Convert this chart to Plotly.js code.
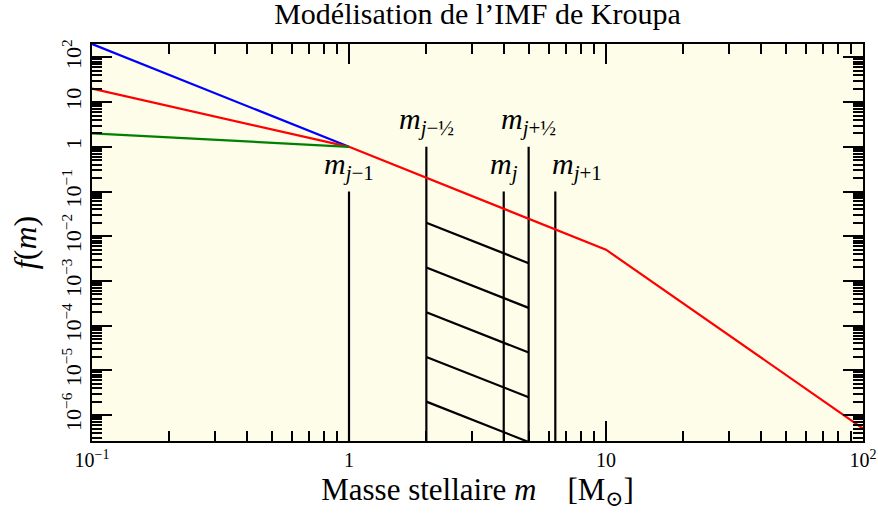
<!DOCTYPE html>
<html>
<head>
<meta charset="utf-8">
<script src="https://cdn.plot.ly/plotly-3.0.1.min.js"></script>
<style>html,body{margin:0;padding:0;background:#fff;}#chart{width:878px;height:517px;}#status{position:absolute;left:95px;top:240px;font:10px monospace;color:transparent;white-space:pre-wrap;background:transparent;z-index:10;width:760px;pointer-events:none}</style>
</head>
<body>
<div id="chart"></div>
<div id="status">start</div>
<script>
const errs = [];
window.onerror = function(m, s, l, c, e){ errs.push('onerror: ' + m + ' @' + l + ':' + c); };
// Low-mass segments (0.1 -> 1 Msun)
const massLow = [0.1, 1];
const blueF = [200, 1];
const redLowF = [20, 1];
const greenF = [2, 1];
// Kroupa red continuation above 1 Msun
const massHigh = [1, 10, 100];
const redHighF = [1, 5e-3, 5e-7];
// Bin boundaries and labels
const boundM = [1, 2, 4, 5, 6.35];
const boundTop = [0.1, 1, 0.1, 1, 0.1];
const boundBottom = [1e-7, 1e-7, 1e-7, 1e-7, 1e-7];
const boundLabels = ["<i>m</i><sub><i>j</i>−1</sub>", "<i>m</i><sub><i>j</i>−½</sub>", "<i>m</i><sub><i>j</i></sub>", "<i>m</i><sub><i>j</i>+½</sub>", "<i>m</i><sub><i>j</i>+1</sub>"];
// Hatching inside [m_{j-1/2}, m_{j+1/2}]
const hatchM = [2, 5];
const hatchStartF = [2e-2, 2e-3, 2e-4, 2e-5, 2e-6];
const hatchEndF = [2.5e-3, 2.5e-4, 2.5e-5, 2.5e-6, 2.5e-7];
// Tick labels
const xTickVals = [0.1, 1, 10, 100];
const xTickText = ["10<sup>−1</sup>", "1", "10", "10<sup>2</sup>"];
const yTickVals = [1e-6, 1e-5, 1e-4, 1e-3, 1e-2, 1e-1, 1, 10, 100];
const yTickText = ["10<sup>−6</sup>", "10<sup>−5</sup>", "10<sup>−4</sup>", "10<sup>−3</sup>", "10<sup>−2</sup>", "10<sup>−1</sup>", "1", "10", "10<sup>2</sup>"];

const X_RANGE = [-1, 2];
const Y_RANGE = [-6.58, 2.3];
const FONT = "Liberation Serif, DejaVu Serif, serif";
const LW = 2.2;
const traces = [];
traces.push({x: massLow, y: blueF, mode: 'lines', line: {color: '#0000ff', width: LW}});
traces.push({x: massLow, y: redLowF, mode: 'lines', line: {color: '#ff0000', width: LW}});
traces.push({x: massLow, y: greenF, mode: 'lines', line: {color: '#008000', width: LW}});
for (let i = 0; i < boundM.length; i++) traces.push({x: [boundM[i], boundM[i]], y: [boundTop[i], boundBottom[i]], mode: 'lines', line: {color: '#000', width: LW}});
for (let k = 0; k < hatchStartF.length; k++) traces.push({x: hatchM, y: [hatchStartF[k], hatchEndF[k]], mode: 'lines', line: {color: '#000', width: LW}});
traces.push({x: massHigh, y: redHighF, mode: 'lines', line: {color: '#ff0000', width: LW}});

const annotations = boundM.map((m, i) => ({x: Math.log10(m), y: Math.log10(boundTop[i]), xref: 'x', yref: 'y', text: boundLabels[i], showarrow: false,
  xanchor: i === 4 ? 'left' : 'center', yanchor: 'bottom', xshift: i === 4 ? -5 : 0, yshift: 5, font: {family: FONT, size: 30, color: '#000'}}));

function axis(extra) {
  return Object.assign({type: 'log', showgrid: true, gridcolor: 'rgba(0,0,0,0)', showline: true, linecolor: '#000', linewidth: 2, mirror: 'allticks',
    ticks: 'inside', ticklen: 20, tickwidth: 2, tickcolor: '#000', tickmode: 'array',
    minor: {ticks: 'inside', ticklen: 10, tickwidth: 1.5, tickcolor: '#000', dtick: 'D1'}}, extra);
}
const layout = {
  width: 878, height: 517, margin: {l: 92, r: 15, t: 44, b: 76}, paper_bgcolor: '#ffffff', plot_bgcolor: '#fdfdea', showlegend: false,
  title: {text: "Modélisation de l’IMF de Kroupa", font: {family: FONT, size: 30, color: '#000'}, xref: 'paper', x: 0.5, xanchor: 'center', yref: 'container', y: 0.974, yanchor: 'middle'},
  xaxis: axis({range: X_RANGE, tickvals: xTickVals, ticktext: xTickText, tickfont: {family: FONT, size: 20, color: '#000'},
    title: {text: "Masse stellaire <i>m</i>\u00a0\u00a0\u00a0\u00a0[M<sub>⊙</sub>]", font: {family: FONT, size: 31, color: '#000'}, standoff: 8}}),
  yaxis: axis({range: Y_RANGE, tickvals: yTickVals, ticktext: yTickText, tickangle: -90, tickfont: {family: FONT, size: 22, color: '#000'},
    title: {text: "<i>f</i>(<i>m</i>)", font: {family: FONT, size: 32, color: '#000'}, standoff: 12}}),
  annotations: annotations
};
function report(tag) {
  const gd = document.getElementById('chart');
  const out = [tag + ' v' + Plotly.version];
  try {
    const xt = gd.querySelectorAll('path.xtick'), yt = gd.querySelectorAll('path.ytick');
    out.push('xtick=' + xt.length + ' ytick=' + yt.length + (xt[0] ? ' d=' + xt[0].getAttribute('d') : ''));
    const fl = gd._fullLayout;
    out.push('x ticks=' + (fl && fl.xaxis.ticks) + ' len=' + (fl && fl.xaxis.ticklen) + ' font=' + (fl && JSON.stringify(fl.xaxis.tickfont)));
    const lab = gd.querySelector('.xtick text');
    out.push('label style=' + (lab && lab.getAttribute('style')));
    out.push('svg count=' + document.querySelectorAll('svg.main-svg').length);
  } catch (e) { out.push('report err ' + e); }
  out.push(errs.join(' | '));
  document.getElementById('status').textContent += '\n' + out.join('\n');
}
try {
  Plotly.newPlot('chart', traces, layout, {displayModeBar: false}).then(() => report('then')).catch(e => { errs.push('reject ' + e); report('catch'); });
} catch (e) { errs.push('sync ' + e); report('sync'); }
setTimeout(() => report('t500'), 500);
</script>
</body>
</html>
